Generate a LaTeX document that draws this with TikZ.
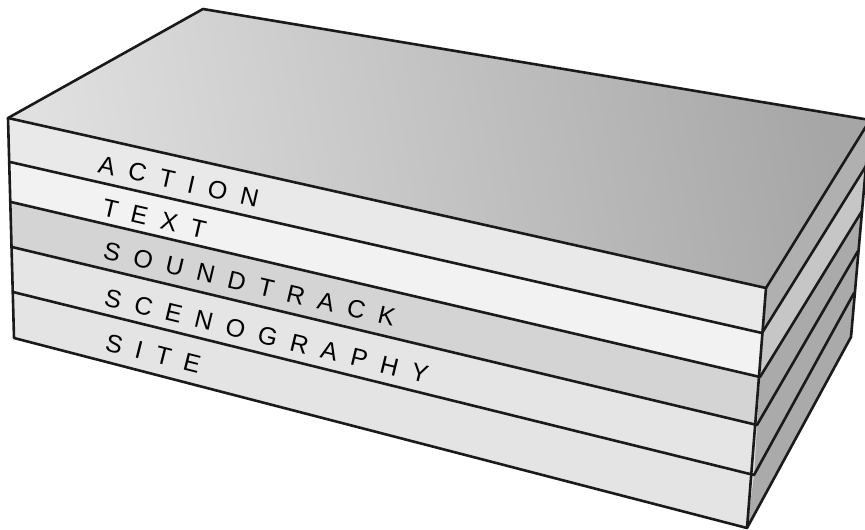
\documentclass[tikz,border=0pt]{standalone}
\usepackage{fontspec}
\setmainfont{Liberation Sans}
\usepackage{tikz}
\usetikzlibrary{positioning}
\definecolor{toplight}{RGB}{224, 224, 224}
\definecolor{topdark}{RGB}{166, 166, 166}
\definecolor{edgeblack}{RGB}{26, 26, 26}
\definecolor{actionfill}{RGB}{233, 233, 233}
\definecolor{textfill}{RGB}{242, 242, 242}
\definecolor{soundfill}{RGB}{212, 212, 212}
\definecolor{scenofill}{RGB}{229, 229, 229}
\definecolor{sitefill}{RGB}{228, 228, 228}
\definecolor{sideA}{RGB}{176, 176, 176}
\definecolor{sideB}{RGB}{198, 198, 198}
\definecolor{sideC}{RGB}{170, 170, 170}

\begin{document}
\begin{tikzpicture}[
    x=1pt, y=-1pt,
    edge/.style={draw=edgeblack, line width=2.6pt, line join=round, line cap=round},
    layerlabel/.style={
        anchor=base west, inner sep=0pt,
        font=\fontsize{25}{25}\selectfont\addfontfeature{LetterSpace=55}
    },
]
\useasboundingbox (0,0) rectangle (865,530);
\clip (0,0) rectangle (865,530);

% Corners of the block
\coordinate (bl) at (203,9);
\foreach \i/\lx/\ly/\rx/\ry/\bx/\by in {
    0/8/118/766/288/870/120,
    1/10/162/762/333/866/166,
    2/11/202/760/377/862/211,
    3/12/247/757/425/858/251,
    4/13/292/754/475/854/293,
    5/14/338/747/528/851/337} {
  \coordinate (l\i) at (\lx,\ly);
  \coordinate (r\i) at (\rx,\ry);
  \coordinate (b\i) at (\bx,\by);
}

% Front strips
\foreach \i/\j/\col in {0/1/actionfill, 1/2/textfill, 2/3/soundfill,
                        3/4/scenofill, 4/5/sitefill}
  \fill[\col] (l\i) -- (r\i) -- (r\j) -- (l\j) -- cycle;

% Side strips
\foreach \i/\j/\col in {0/1/sideA, 1/2/sideB, 2/3/sideC, 3/4/sideC, 4/5/sideC}
  \fill[\col] (r\i) -- (b\i) -- (b\j) -- (r\j) -- cycle;

% Top face
\shade[left color=toplight, right color=topdark, shading angle=100]
    (l0) -- (bl) -- (b0) -- (r0) -- cycle;

% Edges
\draw[edge] (l5) -- (l0) -- (bl) -- (b0) -- (b5) -- (r5) -- cycle;
\draw[edge] (l0) -- (r0) -- (b0);
\draw[edge] (r0) -- (r5);
\foreach \i in {1,...,4}
  \draw[edge] (l\i) -- (r\i) -- (b\i);

% Layer names
\node[layerlabel, rotate=-12.7] (action) at (97,172) {ACTION};
\node[layerlabel, rotate=-13.0] (text)   at (101,215) {TEXT};
\node[layerlabel, rotate=-13.3] (sound)  at (102,258) {SOUNDTRACK};
\node[layerlabel, rotate=-13.7] (sceno)  at (103,305) {SCENOGRAPHY};
\node[layerlabel, rotate=-14.2] (site)   at (104,350) {SITE};

\end{tikzpicture}
\end{document}
